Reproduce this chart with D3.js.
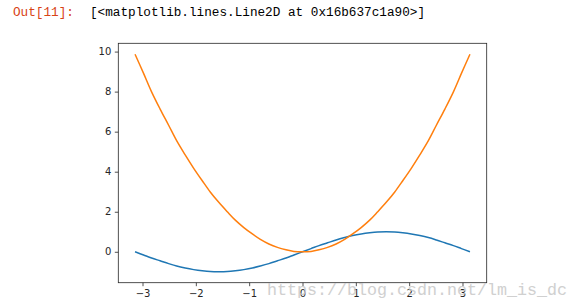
<!DOCTYPE html>
<html>
<head>
<meta charset="utf-8">
<script src="https://cdn.jsdelivr.net/npm/d3@7"></script>
<style>
  body { margin: 0; background: #fff; }
  svg { display: block; }
  .tick text { font-family: "DejaVu Sans", sans-serif; font-size: 10px; fill: #262626; }
</style>
</head>
<body>
<script>
// x samples, with the two curves
var xs = [-3.14, -2.98, -2.83, -2.67, -2.51, -2.36, -2.20, -2.04, -1.88, -1.73, -1.57,
          -1.41, -1.26, -1.10, -0.94, -0.79, -0.63, -0.47, -0.31, -0.16, 0.00,
          0.16, 0.31, 0.47, 0.63, 0.79, 0.94, 1.10, 1.26, 1.41, 1.57,
          1.73, 1.88, 2.04, 2.20, 2.36, 2.51, 2.67, 2.83, 2.98, 3.14];
var blueVals = [0.00, -0.16, -0.31, -0.45, -0.59, -0.71, -0.81, -0.89, -0.95, -0.99, -1.00,
                -0.99, -0.95, -0.89, -0.81, -0.71, -0.59, -0.45, -0.31, -0.16, 0.00,
                0.16, 0.31, 0.45, 0.59, 0.71, 0.81, 0.89, 0.95, 0.99, 1.00,
                0.99, 0.95, 0.89, 0.81, 0.71, 0.59, 0.45, 0.31, 0.16, 0.00];
var orangeVals = [9.87, 8.91, 7.99, 7.13, 6.32, 5.55, 4.84, 4.17, 3.55, 2.99, 2.47,
                  2.00, 1.58, 1.21, 0.89, 0.62, 0.39, 0.22, 0.10, 0.02, 0.00,
                  0.02, 0.10, 0.22, 0.39, 0.62, 0.89, 1.21, 1.58, 2.00, 2.47,
                  2.99, 3.55, 4.17, 4.84, 5.55, 6.32, 7.13, 7.99, 8.91, 9.87];
var xTicks = [-3, -2, -1, 0, 1, 2, 3];
var yTicks = [0, 2, 4, 6, 8, 10];

var W = 579, H = 308;
var box = { left: 118.3, top: 43.3, right: 486.7, bottom: 282.7 };

var svg = d3.select("body").append("svg")
    .attr("width", W)
    .attr("height", H);

// Jupyter output prompt line
var mono = "'Liberation Mono', 'DejaVu Sans Mono', monospace";
svg.append("text")
    .attr("x", 13).attr("y", 16)
    .attr("textLength", 61).attr("lengthAdjust", "spacingAndGlyphs")
    .style("font-family", mono).style("font-size", "12.5px")
    .style("fill", "#d84315")
    .text("Out[11]:");
svg.append("text")
    .attr("x", 90).attr("y", 16)
    .attr("textLength", 335).attr("lengthAdjust", "spacingAndGlyphs")
    .style("font-family", mono).style("font-size", "12.5px")
    .style("fill", "#000")
    .text("[<matplotlib.lines.Line2D at 0x16b637c1a90>]");

// matplotlib-like 5% margins
var xMin = d3.min(xs), xMax = d3.max(xs);
var xPad = (xMax - xMin) * 0.05;
var allY = blueVals.concat(orangeVals);
var yMin = d3.min(allY), yMax = d3.max(allY);
var yPad = (yMax - yMin) * 0.05;

var x = d3.scaleLinear()
    .domain([xMin - xPad, xMax + xPad])
    .range([box.left, box.right]);
var y = d3.scaleLinear()
    .domain([yMin - yPad, yMax + yPad])
    .range([box.bottom, box.top]);

var line = d3.line()
    .x(function (d) { return x(d[0]); })
    .y(function (d) { return y(d[1]); })
    .curve(d3.curveCatmullRom);

svg.append("path")
    .datum(xs.map(function (v, i) { return [v, blueVals[i]]; }))
    .attr("d", line)
    .attr("fill", "none")
    .attr("stroke", "#1f77b4")
    .attr("stroke-width", 1.5);

svg.append("path")
    .datum(xs.map(function (v, i) { return [v, orangeVals[i]]; }))
    .attr("d", line)
    .attr("fill", "none")
    .attr("stroke", "#ff7f0e")
    .attr("stroke-width", 1.5);

// axes
var xAxis = svg.append("g")
    .attr("transform", "translate(0," + box.bottom + ")")
    .call(d3.axisBottom(x).tickValues(xTicks).tickSize(3.5).tickPadding(3.5)
        .tickFormat(function (d) { return d < 0 ? "\u2212" + (-d) : d; }));
var yAxis = svg.append("g")
    .attr("transform", "translate(" + box.left + ",0)")
    .call(d3.axisLeft(y).tickValues(yTicks).tickSize(3.5).tickPadding(3.5));
[xAxis, yAxis].forEach(function (a) {
    a.select(".domain").remove();
    a.selectAll(".tick line").attr("stroke", "#262626").attr("stroke-width", 0.8);
});

// frame
svg.append("rect")
    .attr("x", box.left).attr("y", box.top)
    .attr("width", box.right - box.left)
    .attr("height", box.bottom - box.top)
    .attr("fill", "none")
    .attr("stroke", "#262626")
    .attr("stroke-width", 0.8);

// watermark
svg.append("text")
    .attr("x", 267).attr("y", 295)
    .attr("textLength", 300).attr("lengthAdjust", "spacingAndGlyphs")
    .style("font-family", "'Liberation Mono', monospace")
    .style("font-size", "17px")
    .style("fill", "#c8c8c8")
    .style("opacity", 0.85)
    .text("https://blog.csdn.net/lm_is_dc");
</script>
</body>
</html>
